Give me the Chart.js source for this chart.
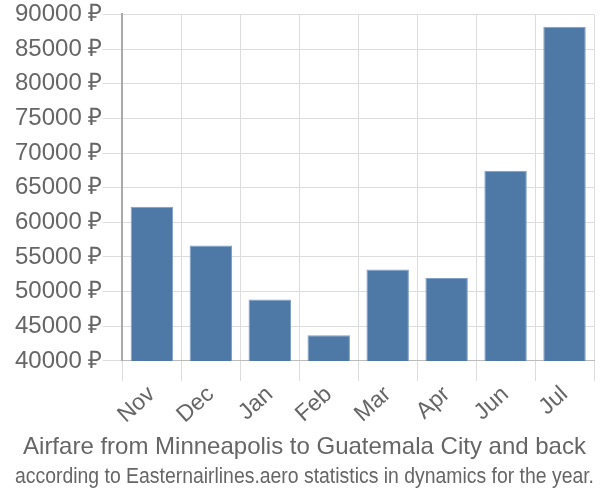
<!DOCTYPE html>
<html lang="en">
<head>
<meta charset="UTF-8">
<title>Airfare chart</title>
<script src="https://cdn.jsdelivr.net/npm/chart.js"></script>
<style>
    body { margin: 0; background: #fff; }
    .wrap { width: 600px; height: 500px; }
</style>
</head>
<body>
<div class="wrap"><canvas id="chart"></canvas></div>
<script>
    const months = ['Nov', 'Dec', 'Jan', 'Feb', 'Mar', 'Apr', 'Jun', 'Jul'];
    const prices = [62250, 56650, 48850, 43700, 53200, 51950, 67450, 88200];
    const yMin = 40000;
    const yMax = 90000;
    const yStep = 5000;

    Chart.defaults.font.family = '"Liberation Sans", Arial, sans-serif';
    Chart.defaults.color = '#666';

    // subtitle plugin sits closer to the chart at the bottom, so it carries the main title
    new Chart(document.getElementById('chart').getContext('2d'), {
        type: 'bar',
        data: {
            labels: months,
            datasets: [{
                data: prices,
                backgroundColor: '#4e79a7',
                borderColor: '#7f9fc4',
                borderWidth: 1
            }]
        },
        options: {
            responsive: true,
            maintainAspectRatio: false,
            animation: false,
            layout: { padding: { left: 15, right: 6, top: 6, bottom: 6 } },
            plugins: {
                legend: { display: false },
                tooltip: { enabled: false },
                subtitle: {
                    display: true,
                    position: 'bottom',
                    text: 'Airfare from Minneapolis to Guatemala City and back',
                    font: { size: 24, weight: 'normal' },
                    padding: { top: 4, bottom: 2 }
                },
                title: {
                    display: true,
                    position: 'bottom',
                    text: 'according to Easternairlines.aero statistics in dynamics for the year.',
                    font: { size: 22, weight: 'normal' },
                    padding: { top: 0, bottom: 4 }
                }
            },
            scales: {
                x: {
                    grid: { color: '#ddd', tickLength: 20, offset: true },
                    border: { color: '#bbb' },
                    ticks: { font: { size: 23 }, padding: 0, maxRotation: 42, minRotation: 42 }
                },
                y: {
                    min: yMin,
                    max: yMax,
                    grid: { color: '#ddd', tickLength: 20 },
                    border: { color: '#aaa', width: 2 },
                    ticks: {
                        stepSize: yStep,
                        font: { size: 24 },
                        padding: 0,
                        callback: v => v + ' ₽'
                    }
                }
            }
        }
    });
</script>
</body>
</html>
